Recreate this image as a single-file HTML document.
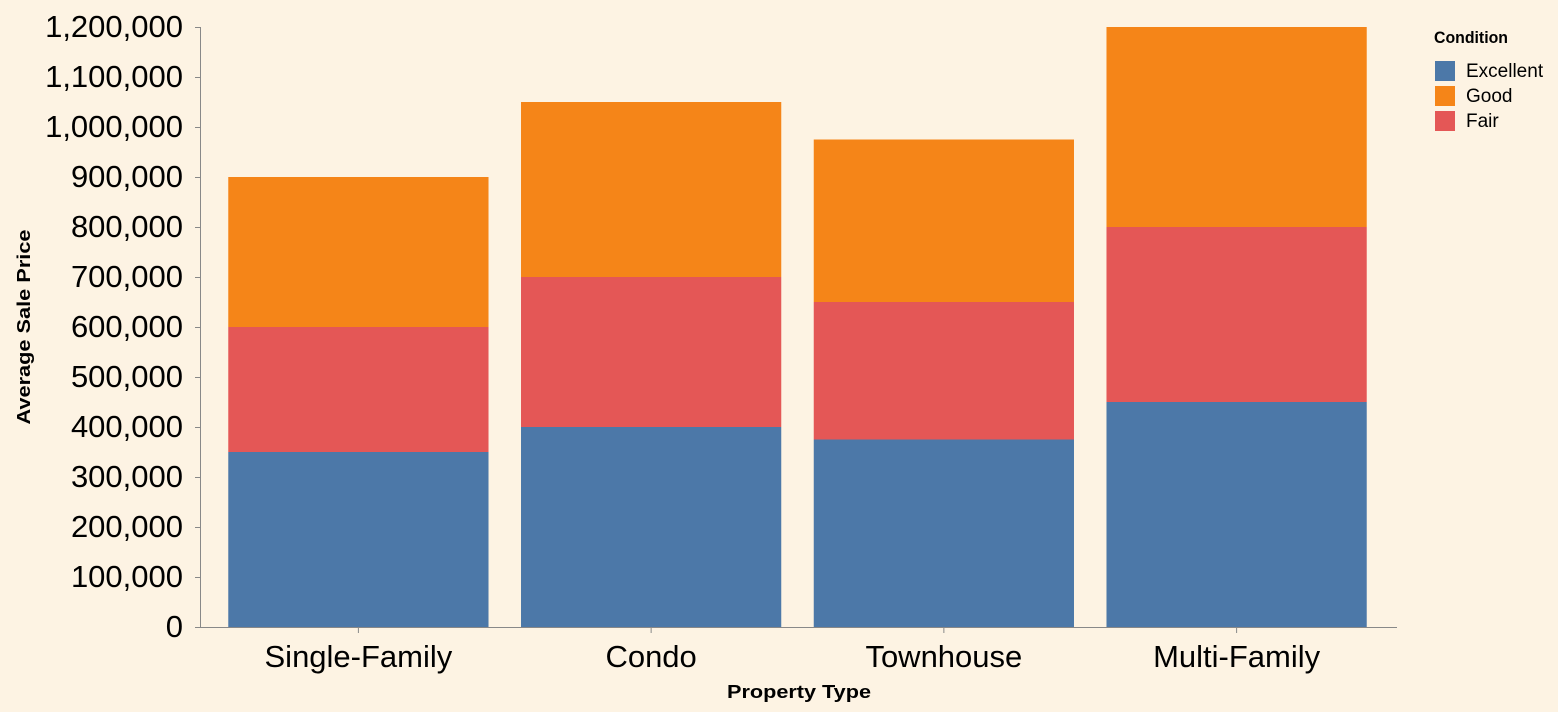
<!DOCTYPE html>
<html><head><meta charset="utf-8">
<style>
html,body{margin:0;padding:0;background:#fdf3e3;}
svg{display:block;font-family:"Liberation Sans",Arial,sans-serif;}
</style></head>
<body>
<svg id="chart" width="1558" height="712">
<rect width="1558" height="712" fill="#fdf3e3"></rect>
<g id="grid"></g><g id="bars"></g><g id="axes"></g><g id="legend"></g>
</svg>
<script>
const categories = ["Single-Family","Condo","Townhouse","Multi-Family"];
const excellent = [350000,400000,375000,450000];
const fair = [250000,300000,275000,350000];
const good = [300000,350000,325000,400000];
const yTicks = [0,100000,200000,300000,400000,500000,600000,700000,800000,900000,1000000,1100000,1200000];
const seriesNames = ["Excellent","Good","Fair"];
const colors = {Excellent:"#4c78a8",Good:"#f58518",Fair:"#e45756"};

const NS="http://www.w3.org/2000/svg";
const x0=200,x1=1397,y0=627,y1=27,yMax=1200000;
const y=v=>y0-(v/yMax)*(y0-y1);
const step=(x1-x0)/(categories.length-0.111+0.2);
const bw=step*(1-0.111);
const bandX=i=>x0+step*0.1+i*step-1;
function mk(tag,attrs,parent,text){const e=document.createElementNS(NS,tag);for(const k in attrs)e.setAttribute(k,attrs[k]);if(text!==undefined)e.textContent=text;parent.appendChild(e);return e;}
const bars=document.getElementById('bars'),axes=document.getElementById('axes'),legend=document.getElementById('legend');
categories.forEach((c,i)=>{
  const segs=[["Excellent",excellent[i]],["Fair",fair[i]],["Good",good[i]]];
  let base=0;
  segs.forEach(([n,v])=>{
    const r=mk('rect',{x:bandX(i),y:y(base+v),width:bw,height:y(base)-y(base+v),fill:colors[n]},bars);
    
    
    base+=v;
  });
});
// y axis
let l=mk('line',{x1:x0+0.5,x2:x0+0.5,y1:y1,y2:y0,stroke:"#888"},axes);


yTicks.forEach(t=>{
  const tk=mk('line',{x1:x0-5,x2:x0,y1:y(t)+0.5,y2:y(t)+0.5,stroke:"#888"},axes);
  
  
  const tx=mk('text',{x:x0-17,y:y(t)+10,'text-anchor':'end','font-size':31,fill:"#000"},axes,t.toLocaleString('en-US'));
  
  
});
let yt=mk('text',{x:30,y:327,'text-anchor':'middle','font-size':18,'font-weight':'bold',fill:"#000",transform:"rotate(-90 30 327)",textLength:195,lengthAdjust:"spacingAndGlyphs"},axes,"Average Sale Price");


// x axis
l=mk('line',{x1:x0,x2:x1,y1:y0+0.5,y2:y0+0.5,stroke:"#888"},axes);


categories.forEach((c,i)=>{
  const cx=bandX(i)+bw/2;
  const tk=mk('line',{x1:cx,x2:cx,y1:y0,y2:y0+6,stroke:"#888"},axes);
  
  
  const tx=mk('text',{x:cx,y:667,'text-anchor':'middle','font-size':31,fill:"#000"},axes,c);
  
  
});
let xt=mk('text',{x:799,y:698,'text-anchor':'middle','font-size':18,'font-weight':'bold',fill:"#000",textLength:144,lengthAdjust:"spacingAndGlyphs"},axes,"Property Type");


// legend
let lt=mk('text',{x:1434,y:43,'font-size':17,'font-weight':'bold',fill:"#000",textLength:74,lengthAdjust:"spacingAndGlyphs"},legend,"Condition");


seriesNames.forEach((n,i)=>{
  const g=mk('g',{},legend);
  
  
  mk('rect',{x:1435,y:61+i*25,width:20,height:20,fill:colors[n]},g);
  mk('text',{x:1466,y:77+i*25,'font-size':19,fill:"#000"},g,n);
});
</script>
</body></html>
